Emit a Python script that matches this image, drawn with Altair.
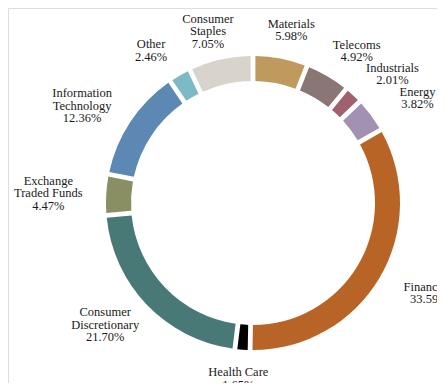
import altair as alt
import pandas as pd

categories = ["Materials", "Telecoms", "Industrials", "Energy", "Financials",
              "Health Care", "Consumer Discretionary", "Exchange Traded Funds",
              "Information Technology", "Other", "Consumer Staples"]
label_lines = ["Materials", "Telecoms", "Industrials", "Energy", "Financials",
               "Health Care", "Consumer\nDiscretionary", "Exchange\nTraded Funds",
               "Information\nTechnology", "Other", "Consumer\nStaples"]
values = [5.98, 4.92, 2.01, 3.82, 33.59, 1.65, 21.70, 4.47, 12.36, 2.46, 7.05]
colors = ["#BF9A5F", "#8A7673", "#A0616E", "#A391B2", "#B86426", "#000000",
          "#487977", "#8A8E63", "#5E88B4", "#7DB9C6", "#D8D3CC"]

df = pd.DataFrame({
    "category": categories,
    "label": label_lines,
    "value": values,
    "order": list(range(len(categories))),
})

W, H = 429, 375
CX, CY = 245, 195
RX, RY = 205, 176
LH = 12.5

base = alt.Chart(df).encode(
    theta=alt.Theta("value:Q", stack=True),
    order=alt.Order("order:Q"),
)

arcs = base.mark_arc(innerRadius=122, outerRadius=147, padAngle=0.025).encode(
    color=alt.Color("category:N", scale=alt.Scale(domain=categories, range=colors), legend=None),
    x=alt.value(CX), y=alt.value(CY),
)

labels = alt.Chart(df).transform_joinaggregate(
    total="sum(value)"
).transform_window(
    cum="sum(value)", sort=[alt.SortField("order")], frame=[None, 0]
).transform_calculate(
    text="datum.label + '\\n' + format(datum.value, '.2f') + '%'",
).transform_calculate(
    ang="(datum.cum - datum.value / 2) / datum.total * 2 * PI",
    nl="length(split(datum.text, '\\n'))",
).transform_calculate(
    lx=f"{CX} + {RX} * sin(datum.ang)",
    ly=f"{CY} - {RY} * cos(datum.ang) - (datum.nl - 1) * {LH} / 2",
).mark_text(
    font="Liberation Serif", fontSize=12.5, lineHeight=LH, lineBreak="\n",
    color="#1a1a1a", align="center", baseline="middle",
).encode(
    text="text:N",
    x=alt.X("lx:Q", scale=None),
    y=alt.Y("ly:Q", scale=None),
)

chart = alt.layer(arcs, labels).properties(
    width=W, height=H,
    autosize=alt.AutoSizeParams(type="none"),
    padding=0,
).configure_view(stroke=None).configure(background="white")

chart.save("out.html", embed_options={"renderer": "svg", "actions": False})
